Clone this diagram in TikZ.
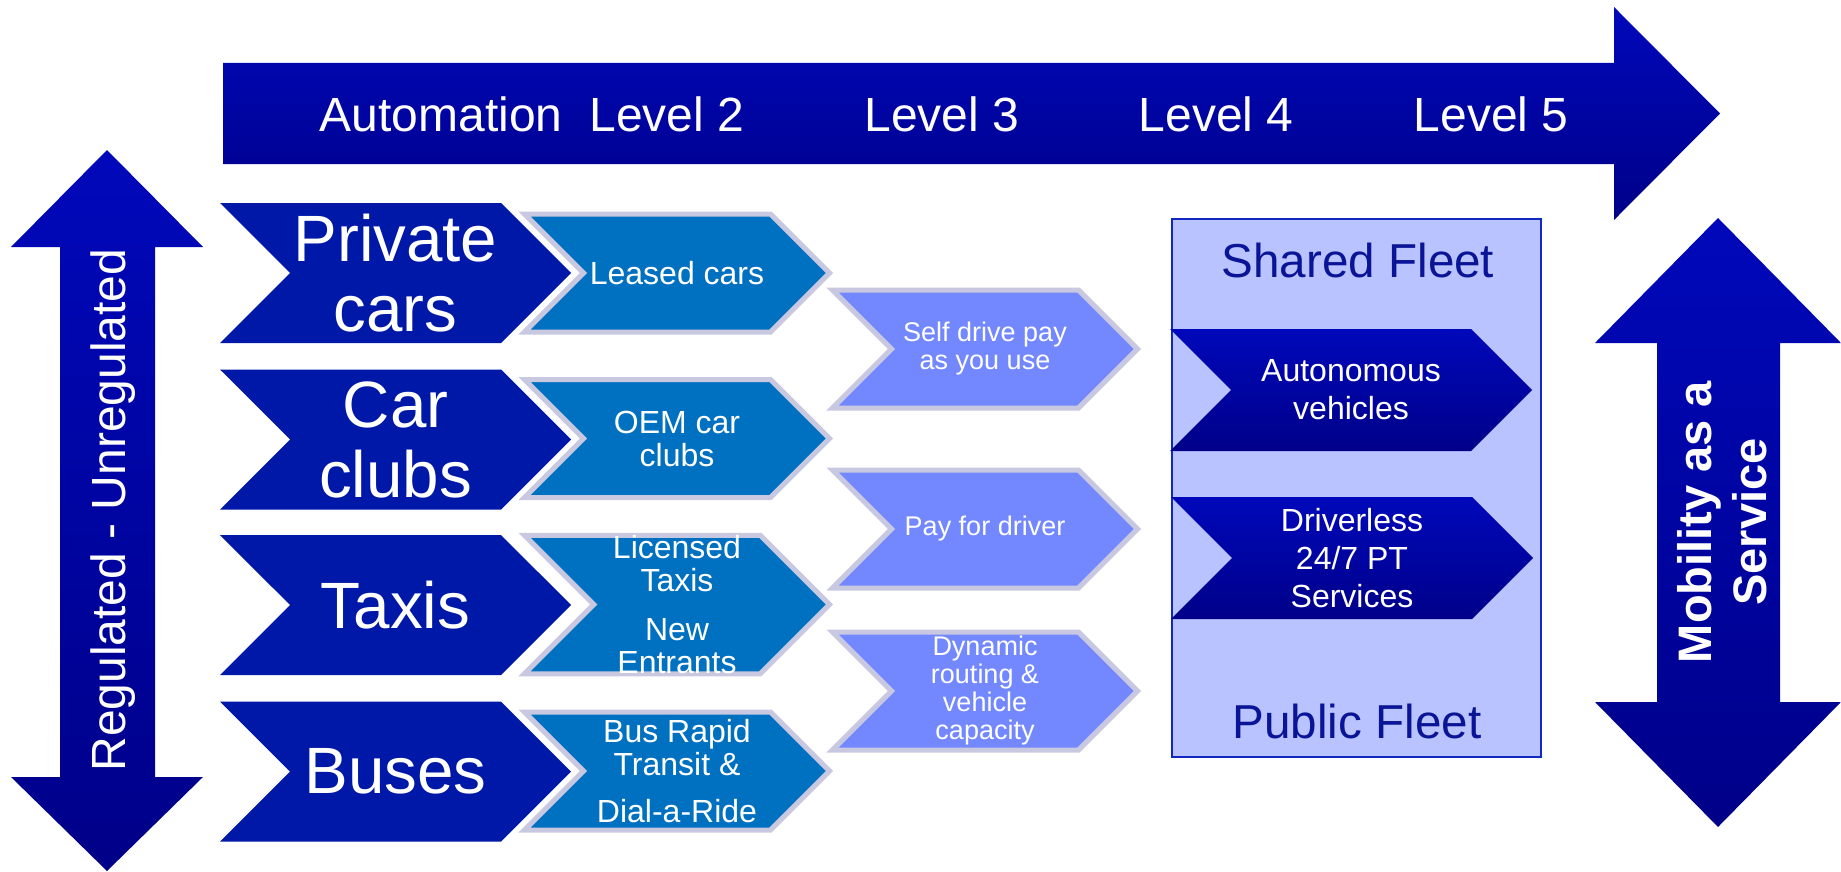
\documentclass[tikz,border=0pt]{standalone}
\usepackage{fontspec}
\setmainfont{Liberation Sans}
\usetikzlibrary{shapes.symbols}

\definecolor{navytop}{RGB}{0,8,186}
\definecolor{navylow}{RGB}{0,0,136}
\definecolor{modeblue}{RGB}{0,24,168}
\definecolor{stepblue}{RGB}{0,112,192}
\definecolor{servblue}{RGB}{115,136,255}
\definecolor{rimgrey}{RGB}{200,200,224}
\definecolor{fleetfill}{RGB}{185,195,255}
\definecolor{fleetline}{RGB}{16,40,192}
\definecolor{fleettext}{RGB}{10,20,150}

\begin{document}
\begin{tikzpicture}
  [x=1pt,y=-1pt,
   chev/.style={shape=signal,signal from=west,signal to=east,inner sep=0pt,align=center,text=white},
   mode/.style={chev,fill=modeblue,minimum width=351pt,minimum height=140pt,font=\fontsize{65.5}{70}\selectfont},
   stage/.style={chev,fill=stepblue,draw=rimgrey,line width=5pt,minimum width=305pt,minimum height=118pt,font=\fontsize{32}{33}\selectfont},
   serv/.style={chev,fill=servblue,draw=rimgrey,line width=5pt,minimum width=305pt,minimum height=118pt,font=\fontsize{27}{28}\selectfont},
   auto/.style={chev,top color=navytop,bottom color=navylow,minimum width=362pt,minimum height=122pt,font=\fontsize{32}{38}\selectfont},
   lvl/.style={text=white,font=\fontsize{48}{52}\selectfont},
   fleet/.style={text=fleettext,font=\fontsize{47.6}{50}\selectfont}]
  \useasboundingbox (0,0) rectangle (1841,872);

  % big arrows
  \path[top color=navytop,bottom color=navylow]
    (223,63) -- (1614,63) -- (1614,7) -- (1720,113.5) -- (1614,220) -- (1614,164) -- (223,164) -- cycle;
  \path[top color=navytop,bottom color=navylow]
    (107,150) -- (203,247) -- (155,247) -- (155,777) -- (203,777) -- (107,871)
    -- (11,777) -- (60,777) -- (60,247) -- (11,247) -- cycle;
  \path[top color=navytop,bottom color=navylow]
    (1718,218) -- (1841,343) -- (1780,343) -- (1780,702) -- (1841,702) -- (1718,827)
    -- (1595,702) -- (1657,702) -- (1657,343) -- (1595,343) -- cycle;

  \node[lvl] (automation) at (441,114) {Automation};
  \foreach \n/\x in {2/667,3/942,4/1216,5/1491}
    \node[lvl] (level\n) at (\x,114) {Level \n};

  \node[lvl,rotate=90] (regulation) at (113,510) {Regulated - Unregulated};
  \node[text=white,rotate=90,align=center,font=\fontsize{47}{55}\selectfont\bfseries]
    (maas) at (1722,522) {Mobility as a\\Service};

  % modes
  \foreach \name/\y/\txt in {privcars/273/{Private\\cars},carclubs/439.5/{Car\\clubs},
                              taxis/605/{Taxis},buses/771.5/{Buses}}
    \node[mode] (\name) at (395.5,\y) {\txt};

  % level 2
  \foreach \name/\y/\txt in {leased/273/{Leased cars},oemclubs/438.5/{OEM car\\clubs},
                              licensed/604.5/{Licensed\\Taxis\\[16pt]New\\Entrants},
                              brt/771/{Bus Rapid\\Transit \&\\[14pt]Dial-a-Ride}}
    \node[stage] (\name) at (677,\y) {\txt};

  % level 3
  \foreach \name/\y/\txt in {selfdrive/349/{Self drive pay\\as you use},
                              paydriver/529/{Pay for driver},
                              dynrouting/691/{Dynamic\\routing \&\\vehicle\\capacity}}
    \node[serv] (\name) at (985,\y) {\txt};

  % fleets
  \draw[fill=fleetfill,draw=fleetline,line width=2pt] (1172,219) rectangle (1541,757);
  \node[fleet] (shared) at (1358,260) {Shared Fleet};
  \node[fleet] (public) at (1357,721) {Public Fleet};
  \node[auto] (autonomous) at (1351,390) {Autonomous\\vehicles};
  \node[auto] (driverless) at (1352,558) {Driverless\\24/7 PT\\Services};

\end{tikzpicture}
\end{document}
